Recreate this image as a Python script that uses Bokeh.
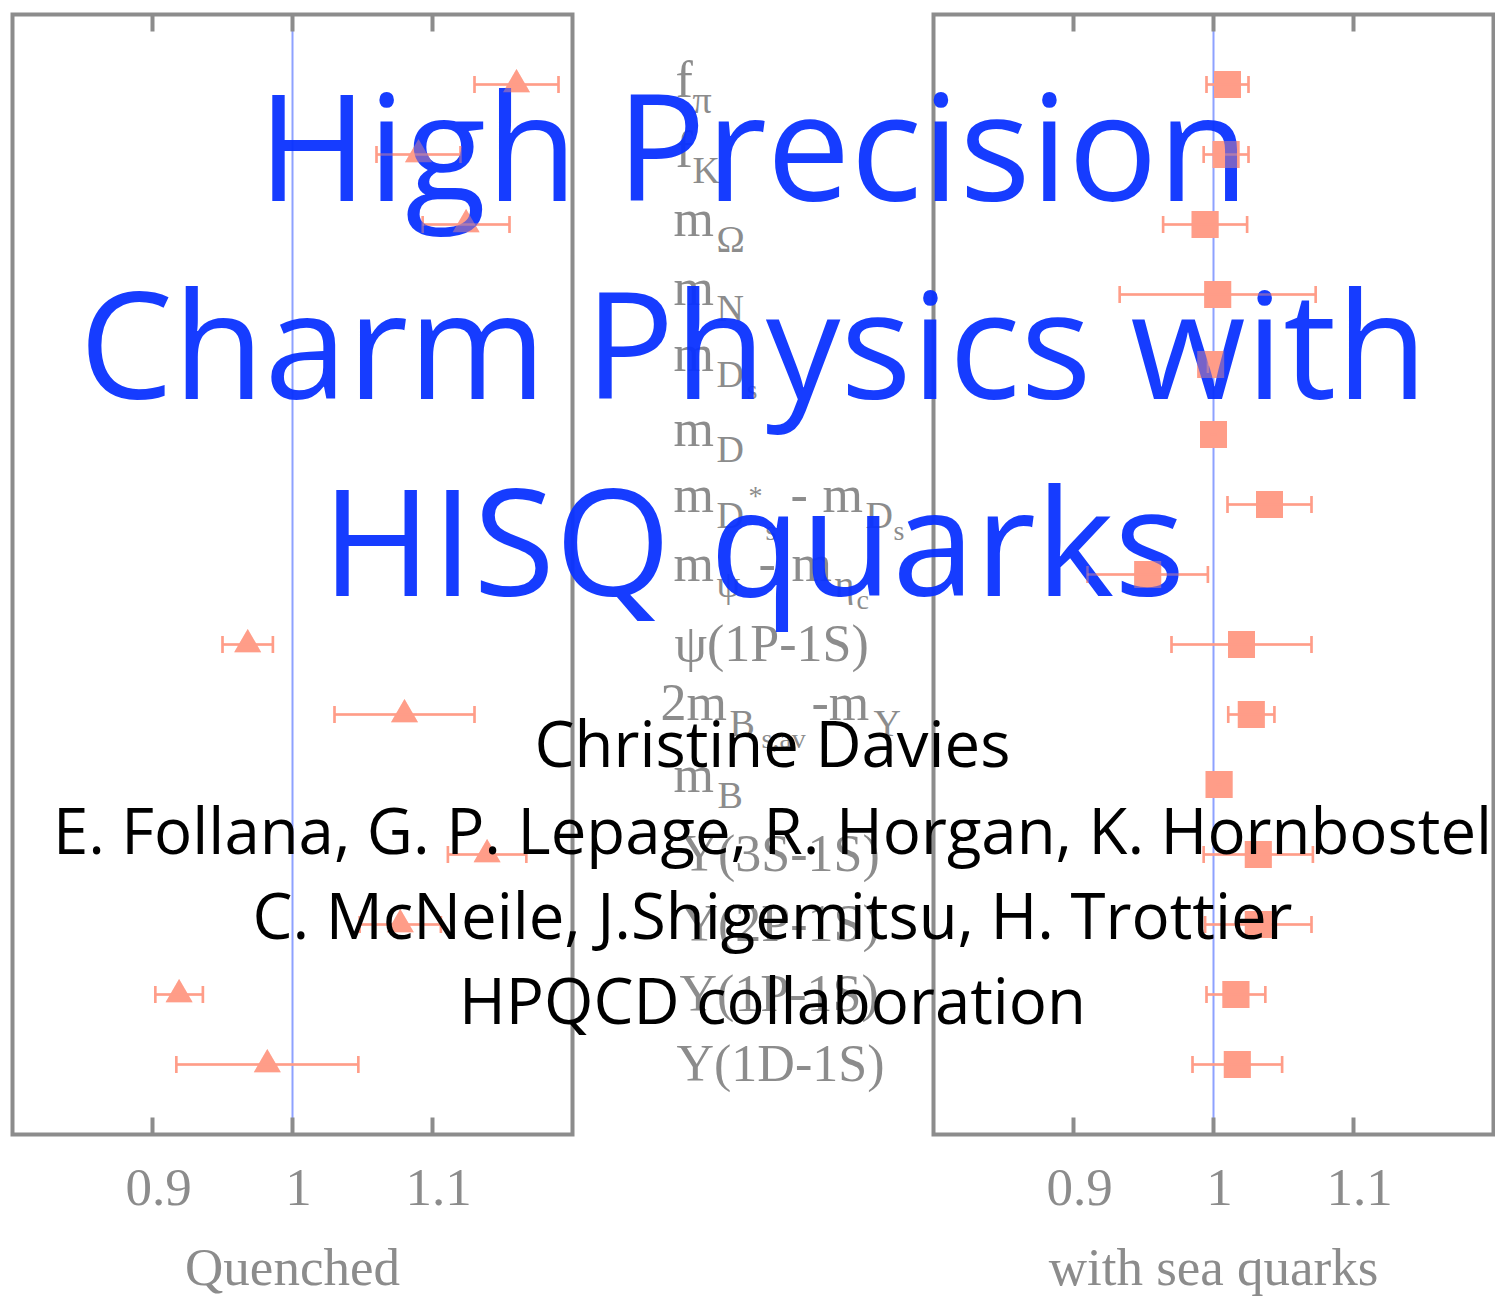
import math
from bokeh.plotting import figure
from bokeh.models import Range1d, ColumnDataSource
from bokeh.embed import file_html
from bokeh.resources import INLINE
from bokeh.core.properties import value

# ---------------- data ----------------
OBSERVABLES = ["f_pi", "f_K", "m_Omega", "m_N", "m_Ds", "m_D", "m_Ds*-m_Ds",
               "m_psi-m_etac", "psi(1P-1S)", "2m_Bs,av-m_Upsilon", "m_B",
               "Upsilon(3S-1S)", "Upsilon(2P-1S)", "Upsilon(1P-1S)", "Upsilon(1D-1S)"]
QUENCHED = [1.160, 1.090, 1.124, None, None, None, None, None,
            0.968, 1.080, None, 1.139, 1.077, 0.919, 0.982]
QUENCHED_ERR = [0.030, 0.030, 0.031, None, None, None, None, None,
                0.018, 0.050, None, 0.028, 0.029, 0.017, 0.065]
SEA = [1.010, 1.009, 0.994, 1.003, 0.998, 1.000, 1.040, 0.953,
       1.020, 1.027, 1.004, 1.032, 1.032, 1.016, 1.017]
SEA_ERR = [0.015, 0.016, 0.030, 0.070, 0.002, 0.002, 0.030, 0.043,
           0.050, 0.0165, 0.002, 0.039, 0.038, 0.021, 0.032]
REFERENCE = 1.0
X_MIN, X_MAX = 0.8, 1.2
TICKS = [0.9, 1.0, 1.1]
TICK_LABELS = ["0.9", "1", "1.1"]
PANEL_TITLES = {"quenched": "Quenched", "sea": "with sea quarks"}
# label segments: (text, level) 0 = main, 1 = subscript, 2 = sub-subscript, 3 = superscript on subscript
ROW_LABELS = [
    [("f", 0), ("π", 1)],
    [("f", 0), ("K", 1)],
    [("m", 0), ("Ω", 1)],
    [("m", 0), ("N", 1)],
    [("m", 0), ("D", 1), ("s", 2)],
    [("m", 0), ("D", 1)],
    [("m", 0), ("D", 1), ("*", 3), ("s", 2), ("-", 0), ("m", 0), ("D", 1), ("s", 2)],
    [("m", 0), ("ψ", 1), ("-", 0), ("m", 0), ("η", 1), ("c", 2)],
    [("ψ(1P-1S)", 0)],
    [("2m", 0), ("B", 1), ("s,av", 2), ("-m", 0), ("Υ", 1)],
    [("m", 0), ("B", 1)],
    [("Υ(3S-1S)", 0)],
    [("Υ(2P-1S)", 0)],
    [("Υ(1P-1S)", 0)],
    [("Υ(1D-1S)", 0)],
]
TITLE_LINES = ["High Precision", "Charm Physics with", "HISQ quarks"]
AUTHOR_LINES = ["Christine Davies",
                "E. Follana, G. P. Lepage, R. Horgan, K. Hornbostel",
                "C. McNeile, J.Shigemitsu, H. Trottier",
                "HPQCD collaboration"]

# ---------------- layout / style ----------------
W, H = 1495, 1297
ROW_PX = 70
ROW0_Y = 84
PX_PER_UNIT = 1400
PANEL_LEFT = {"quenched": 12, "sea": 933}
LABEL_X = [
    [675, 692], [675, 692], [673, 716], [673, 716], [673, 716, 746], [673, 716],
    [673, 716, 748, 765, 790, 822, 865, 893],
    [673, 716, 758, 791, 834, 856],
    [674], [660, 729, 761, 811, 873], [673, 717], [680], [680], [679], [676],
]
LABEL_BASE = [13, 13, 12, 11, 7, 12, 8, 7, 17, 6, 8, 17, 17, 17, 17]
LEVEL_SIZE = {0: 52, 1: 38, 2: 28, 3: 28}
LEVEL_DY = {0: 0, 1: 15, 2: 28, 3: -7}
TICK_FS, AXIS_TITLE_FS = 53, 53
SERIF_SHIFT = 0.34          # renderer baseline correction (fraction of font size)
TITLE_X, TITLE_Y, TITLE_FS, TITLE_SHIFT = 753, [198, 396, 593], 149, -55
AUTHOR_X, AUTHOR_Y, AUTHOR_FS, AUTHOR_SHIFT = 772, [768, 855, 940, 1025], 63.5, -26

GRAY = "#8c8c8c"
SALMON = "#ff9d89"
BLUE = "#0a32ff"
REFLINE = "#8ea1ff"
SERIF = value("Liberation Serif")
SANS = value("Open Sans")

TICK_LEN = 17
n = len(OBSERVABLES)


def to_row(py):
    return (py - ROW0_Y) / ROW_PX


def fix(fs):
    return -round(SERIF_SHIFT * fs)


p = figure(frame_width=W, frame_height=H, min_border=0, title=None,
           x_range=Range1d(0, W), y_range=Range1d(H, 0),
           x_axis_type=None, y_axis_type=None,
           output_backend="svg", toolbar_location=None)
p.outline_line_color = None
p.background_fill_color = "white"
p.border_fill_color = "white"
p.extra_y_ranges = {"rows": Range1d(to_row(H), to_row(0))}
p.extra_x_ranges = {k: Range1d(X_MIN + (0 - v) / PX_PER_UNIT,
                               X_MIN + (W - v) / PX_PER_UNIT)
                    for k, v in PANEL_LEFT.items()}

series = {"quenched": (QUENCHED, QUENCHED_ERR, "triangle"),
          "sea": (SEA, SEA_ERR, "square")}

# reference lines, boxes, ticks, tick labels, panel titles
for name in PANEL_LEFT:
    p.segment(x0=[REFERENCE], x1=[REFERENCE], y0=[-1], y1=[n], x_range_name=name,
              y_range_name="rows", line_color=REFLINE, line_width=2)
    p.quad(left=[X_MIN], right=[X_MAX], top=[-1], bottom=[n], x_range_name=name,
           y_range_name="rows", fill_color=None, line_color=GRAY, line_width=4,
           line_join="miter")
    dt = TICK_LEN / ROW_PX
    p.segment(x0=TICKS, x1=TICKS, y0=[-1] * len(TICKS), y1=[-1 + dt] * len(TICKS),
              x_range_name=name, y_range_name="rows", line_color=GRAY, line_width=4)
    p.segment(x0=TICKS, x1=TICKS, y0=[n] * len(TICKS), y1=[n - dt] * len(TICKS),
              x_range_name=name, y_range_name="rows", line_color=GRAY, line_width=4)
    p.text(x=TICKS, y=[n] * len(TICKS), text=TICK_LABELS, x_range_name=name,
           y_range_name="rows", x_offset=6, y_offset=71 + fix(TICK_FS), text_align="center",
           text_baseline="alphabetic", text_font=SERIF, text_font_size=f"{TICK_FS}px",
           text_color=GRAY)
    p.text(x=[(X_MIN + X_MAX) / 2], y=[n], text=[PANEL_TITLES[name]], x_range_name=name,
           y_range_name="rows", y_offset=150 + fix(AXIS_TITLE_FS), text_align="center",
           text_baseline="alphabetic", text_font=SERIF,
           text_font_size=f"{AXIS_TITLE_FS}px", text_color=GRAY)

# row labels
for lvl, fs in LEVEL_SIZE.items():
    xs, ys, ts, dys = [], [], [], []
    for r, (segs, xpos) in enumerate(zip(ROW_LABELS, LABEL_X)):
        for (t, l), x in zip(segs, xpos):
            if l == lvl:
                xs.append(x)
                ys.append(r)
                ts.append(t)
                dys.append(LABEL_BASE[r] + LEVEL_DY[l] + fix(fs))
    src = ColumnDataSource(dict(x=xs, y=ys, text=ts, dy=dys))
    p.text(x="x", y="y", text="text", y_offset="dy", source=src, y_range_name="rows",
           text_align="left", text_baseline="alphabetic", text_font=SERIF,
           text_font_size=f"{fs}px", text_color=GRAY)


# data points with error bars
def draw_points(alpha):
    for name, (vals, errs, marker) in series.items():
        rr = [i for i, v in enumerate(vals) if v is not None]
        v = [vals[i] for i in rr]
        e = [errs[i] for i in rr]
        lo = [a - b for a, b in zip(v, e)]
        hi = [a + b for a, b in zip(v, e)]
        p.segment(x0=lo, x1=hi, y0=rr, y1=rr, x_range_name=name, y_range_name="rows",
                  line_color=SALMON, line_width=2.5, line_alpha=alpha)
        p.scatter(x=lo + hi, y=rr + rr, marker="dash", angle=math.pi / 2, size=17,
                  x_range_name=name, y_range_name="rows", line_color=SALMON,
                  line_width=2.5, line_alpha=alpha)
        p.scatter(x=v, y=rr, marker=marker, size=27, x_range_name=name,
                  y_range_name="rows", fill_color=SALMON, fill_alpha=alpha,
                  line_color=None)


draw_points(1.0)

# overlaid title
p.text(x=[TITLE_X] * len(TITLE_LINES), y=TITLE_Y, text=TITLE_LINES, text_align="center",
       y_offset=TITLE_SHIFT, text_baseline="alphabetic", text_font=SANS,
       text_font_size=f"{TITLE_FS}px", text_color=BLUE, text_alpha=0.95)

# points showing through the title
draw_points(0.42)

# authors
p.text(x=[AUTHOR_X] * len(AUTHOR_LINES), y=AUTHOR_Y, text=AUTHOR_LINES, text_align="center",
       y_offset=AUTHOR_SHIFT, text_baseline="alphabetic", text_font=SANS,
       text_font_size=f"{AUTHOR_FS}px", text_color="black")

open("out.html", "w").write(file_html(p, INLINE))
